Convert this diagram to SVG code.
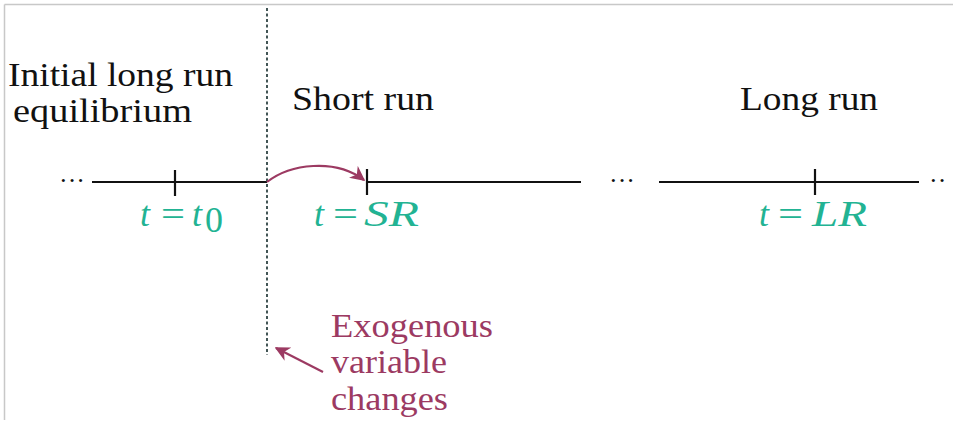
<svg xmlns="http://www.w3.org/2000/svg" width="953" height="422" viewBox="0 0 953 422">
<style>
.title{font-family:"Liberation Serif","DejaVu Serif",serif;font-size:34px;fill:#111}
.math{font-family:"Liberation Serif","DejaVu Serif",serif;font-size:36px;fill:#22b393}
.mi{font-style:italic}
.exo{font-family:"Liberation Serif","DejaVu Serif",serif;font-size:34px;fill:#9c3a62}
.axis{stroke:#111;stroke-width:2.2;fill:none}
.dots{font-family:"Liberation Serif",serif;font-size:26px;fill:#111}
</style>
<defs>
<marker id="ah2" viewBox="0 0 10 10" refX="9" refY="5" markerWidth="15" markerHeight="15" markerUnits="userSpaceOnUse" orient="auto">
<path d="M0,0 L10,5 L0,10 L3,5 Z" fill="#9c3a62"/>
</marker>
</defs>
<rect x="0" y="0" width="953" height="422" fill="#fff"/>
<line x1="4.5" y1="4.5" x2="953" y2="4.5" stroke="#c8c8c8" stroke-width="1.5"/>
<line x1="4.5" y1="4.5" x2="4.5" y2="420" stroke="#c8c8c8" stroke-width="1.5"/>

<g id="timeline">
<text class="dots" x="59" y="189">···</text>
<line class="axis" x1="92" y1="182" x2="267" y2="182"/>
<line class="axis" x1="175" y1="170" x2="175" y2="196"/>
<line class="axis" x1="366" y1="182" x2="581" y2="182"/>
<line class="axis" x1="367" y1="169" x2="367" y2="195"/>
<text class="dots" x="609" y="189">···</text>
<line class="axis" x1="659" y1="182" x2="919" y2="182"/>
<line class="axis" x1="815" y1="169" x2="815" y2="195"/>
<text class="dots" x="929" y="189">··</text>
</g>

<g id="shock-line">
<line x1="267" y1="8" x2="267" y2="355" stroke="#2f4444" stroke-width="1.8" stroke-dasharray="3,2.5"/>
</g>

<g id="label-initial">
<text class="title" x="8" y="86" textLength="225" lengthAdjust="spacingAndGlyphs">Initial long run</text>
<text class="title" x="13" y="122" textLength="179" lengthAdjust="spacingAndGlyphs">equilibrium</text>
</g>
<g id="label-short">
<text class="title" x="292" y="110" textLength="142" lengthAdjust="spacingAndGlyphs">Short run</text>
</g>
<g id="label-long">
<text class="title" x="740" y="110" textLength="138" lengthAdjust="spacingAndGlyphs">Long run</text>
</g>

<g id="tick-t0">
<text class="math mi" x="140" y="226">t</text>
<text class="math" x="161" y="226" textLength="24" lengthAdjust="spacingAndGlyphs">=</text>
<text class="math mi" x="192" y="226">t</text>
<text class="math" x="205" y="232" font-size="22">0</text>
</g>
<g id="tick-sr">
<text class="math mi" x="314" y="226">t</text>
<text class="math" x="333" y="226" textLength="25" lengthAdjust="spacingAndGlyphs">=</text>
<text class="math mi" x="364" y="226" textLength="55" lengthAdjust="spacingAndGlyphs">SR</text>
</g>
<g id="tick-lr">
<text class="math mi" x="759" y="226">t</text>
<text class="math" x="778" y="226" textLength="25" lengthAdjust="spacingAndGlyphs">=</text>
<text class="math mi" x="812" y="226" textLength="55" lengthAdjust="spacingAndGlyphs">LR</text>
</g>

<g id="label-exo">
<text class="exo" x="331" y="337" textLength="162" lengthAdjust="spacingAndGlyphs">Exogenous</text>
<text class="exo" x="331" y="373" textLength="116" lengthAdjust="spacingAndGlyphs">variable</text>
<text class="exo" x="331" y="410" textLength="117" lengthAdjust="spacingAndGlyphs">changes</text>
</g>

<g id="connectors">
<path d="M267,182 C290,164 335,158 364,180" fill="none" stroke="#9c3a62" stroke-width="2.2" marker-end="url(#ah2)"/>
<line x1="323" y1="372" x2="276" y2="348" stroke="#9c3a62" stroke-width="2.2" marker-end="url(#ah2)"/>
</g>
</svg>
